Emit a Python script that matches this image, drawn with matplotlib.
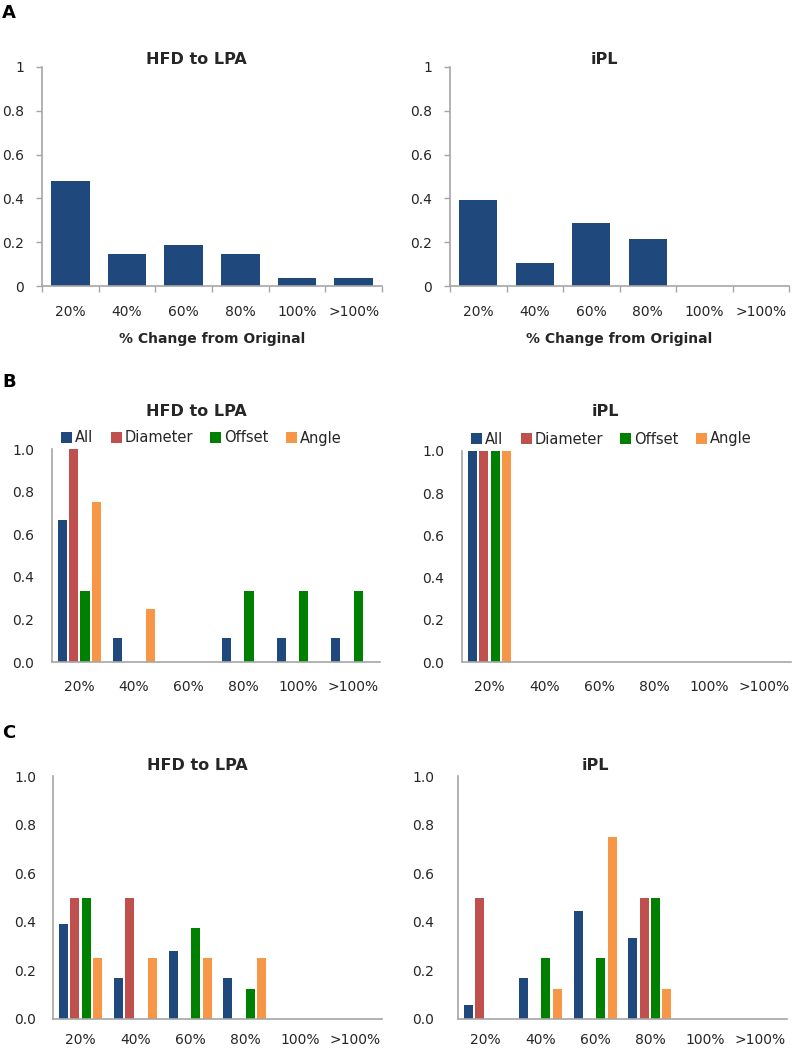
import numpy as np
import matplotlib
matplotlib.use("Agg")
import matplotlib.pyplot as plt
from matplotlib.patches import Patch

plt.rcParams['font.family'] = ['DejaVu Sans']

categories = ["20%", "40%", "60%", "80%", "100%", ">100%"]
series_names = ["All", "Diameter", "Offset", "Angle"]
series_colors = ["#1F497D", "#C0504D", "#008000", "#F79646"]

# Panel A
a_hfd = [0.481, 0.148, 0.185, 0.148, 0.037, 0.037]
a_ipl = [0.393, 0.107, 0.286, 0.214, 0.0, 0.0]

# Panel B
b_hfd_all = [0.667, 0.111, 0.0, 0.111, 0.111, 0.111]
b_hfd_diameter = [1.0, 0.0, 0.0, 0.0, 0.0, 0.0]
b_hfd_offset = [0.333, 0.0, 0.0, 0.333, 0.333, 0.333]
b_hfd_angle = [0.75, 0.25, 0.0, 0.0, 0.0, 0.0]

b_ipl_all = [1.0, 0.0, 0.0, 0.0, 0.0, 0.0]
b_ipl_diameter = [1.0, 0.0, 0.0, 0.0, 0.0, 0.0]
b_ipl_offset = [1.0, 0.0, 0.0, 0.0, 0.0, 0.0]
b_ipl_angle = [1.0, 0.0, 0.0, 0.0, 0.0, 0.0]

# Panel C
c_hfd_all = [0.389, 0.167, 0.278, 0.167, 0.0, 0.0]
c_hfd_diameter = [0.5, 0.5, 0.0, 0.0, 0.0, 0.0]
c_hfd_offset = [0.5, 0.0, 0.375, 0.125, 0.0, 0.0]
c_hfd_angle = [0.25, 0.25, 0.25, 0.25, 0.0, 0.0]

c_ipl_all = [0.056, 0.167, 0.444, 0.333, 0.0, 0.0]
c_ipl_diameter = [0.5, 0.0, 0.0, 0.5, 0.0, 0.0]
c_ipl_offset = [0.0, 0.25, 0.25, 0.5, 0.0, 0.0]
c_ipl_angle = [0.0, 0.125, 0.75, 0.125, 0.0, 0.0]

W, H = 792, 1050
fig = plt.figure(figsize=(W / 100, H / 100), dpi=100)

AXC = "#A6A6A6"
TXT = "#262626"
TICKFS = 10
TITLEFS = 11.5


def rect(l, t, r, b):
    return [l / W, 1 - b / H, (r - l) / W, (b - t) / H]


def style(ax, fmt, marks, xpad, ypad):
    x = np.arange(len(categories))
    ax.set_xlim(-0.5, len(categories) - 0.5)
    ax.set_ylim(0, 1)
    for s in ["top", "right"]:
        ax.spines[s].set_visible(False)
    for s in ["left", "bottom"]:
        ax.spines[s].set_color(AXC)
        ax.spines[s].set_linewidth(1.2)
    yt = np.linspace(0, 1, 6)
    ax.set_yticks(yt)
    ax.set_yticklabels([fmt(v) for v in yt], fontsize=TICKFS, color=TXT)
    ax.set_xticks(x)
    ax.set_xticklabels(categories, fontsize=TICKFS, color=TXT)
    ax.tick_params(axis='x', length=0, pad=xpad)
    if marks:
        ax.tick_params(axis='y', length=4, color=AXC, width=1, pad=ypad)
        ax.set_xticks(np.arange(-0.5, len(categories)), minor=True)
        ax.tick_params(axis='x', which='minor', length=4, color=AXC, width=1)
    else:
        ax.tick_params(axis='y', length=0, pad=ypad)


def fmtA(v):
    return "0" if v == 0 else ("1" if v == 1 else f"{v:.1f}")


def fmtB(v):
    return f"{v:.1f}"


def title(x, y, s):
    fig.text(x / W, 1 - y / H, s, fontsize=TITLEFS, fontweight='bold',
             ha='center', va='center', color=TXT)


# ---- Panel A ----
for (l, r), vals in zip([(42, 382), (450, 789)], [a_hfd, a_ipl]):
    ax = fig.add_axes(rect(l, 67, r, 286))
    ax.bar(np.arange(len(categories)), vals, width=0.68, color="#1F497D")
    style(ax, fmtA, True, 14, 9)
    ax.set_xlabel("% Change from Original", fontsize=10, fontweight='bold',
                  color=TXT, labelpad=9)

title(196, 59, "HFD to LPA")
title(604, 60, "iPL")


def grouped(ax, series):
    x = np.arange(len(categories))
    for i, (vals, col) in enumerate(zip(series, series_colors)):
        ax.bar(x + (i - 1.5) * 0.207, vals, width=0.165, color=col)


# ---- Panel B ----
axb1 = fig.add_axes(rect(52, 449, 380, 662))
grouped(axb1, [b_hfd_all, b_hfd_diameter, b_hfd_offset, b_hfd_angle])
style(axb1, fmtB, False, 13, 13)
axb2 = fig.add_axes(rect(462, 451, 791, 662))
grouped(axb2, [b_ipl_all, b_ipl_diameter, b_ipl_offset, b_ipl_angle])
style(axb2, fmtB, False, 13, 13)

title(196, 411, "HFD to LPA")
title(605, 412, "iPL")

handles = [Patch(facecolor=c, edgecolor='none') for c in series_colors]
for x0, y0 in [(61, 438), (471, 439)]:
    fig.legend(handles, series_names, loc='center left',
               bbox_to_anchor=(x0 / W, 1 - y0 / H), ncol=4, frameon=False,
               fontsize=10.5, handlelength=0.75, handleheight=0.75,
               handletextpad=0.2, columnspacing=1.2, borderpad=0, borderaxespad=0,
               labelcolor=TXT)

# ---- Panel C ----
axc1 = fig.add_axes(rect(53, 776, 382, 1019))
grouped(axc1, [c_hfd_all, c_hfd_diameter, c_hfd_offset, c_hfd_angle])
style(axc1, fmtB, False, 10, 12)
axc2 = fig.add_axes(rect(458, 776, 787, 1019))
grouped(axc2, [c_ipl_all, c_ipl_diameter, c_ipl_offset, c_ipl_angle])
style(axc2, fmtB, False, 10, 17)

title(197, 765, "HFD to LPA")
title(595, 765, "iPL")

# Panel letters
for lab, y in [("A", 13), ("B", 382), ("C", 733)]:
    fig.text(2 / W, 1 - y / H, lab, fontsize=13, fontweight='bold',
             ha='left', va='center', color="#000000")

fig.savefig("out.png", dpi=100)
